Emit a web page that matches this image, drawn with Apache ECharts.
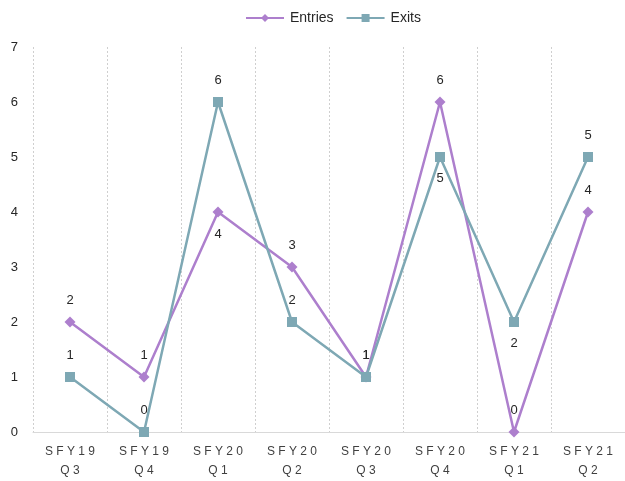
<!DOCTYPE html>
<html><head><meta charset="utf-8">
<script src="https://cdn.jsdelivr.net/npm/echarts@6/dist/echarts.min.js"></script>
<style>html,body{margin:0;padding:0;background:#fff}#c{width:625px;height:481px}</style>
</head><body><div id="c"></div>
<script>
const categories = ['S F Y 1 9\nQ 3','S F Y 1 9\nQ 4','S F Y 2 0\nQ 1','S F Y 2 0\nQ 2','S F Y 2 0\nQ 3','S F Y 2 0\nQ 4','S F Y 2 1\nQ 1','S F Y 2 1\nQ 2'];
const entries = [2,1,4,3,1,6,0,4];
const exits = [1,0,6,2,1,5,2,5];
const entriesLabelPos = ['top','top','bottom','top','top','top','top','top'];
const exitsLabelPos = ['top','top','top','top','top','bottom','bottom','top'];
const yTicks = [0,1,2,3,4,5,6,7];

const chart = echarts.init(document.getElementById('c'), null, {renderer:'canvas'});
const lbl = {show:true, color:'#262626', fontSize:13, fontFamily:'Liberation Sans, Arial', distance:10};
chart.setOption({
  animation:false,
  textStyle:{fontFamily:'Liberation Sans, Arial'},
  legend:{top:6, left:240, itemWidth:38, itemHeight:10, itemGap:12,
    textStyle:{color:'#262626', fontSize:14, padding:[0,0,0,1]},
    data:['Entries','Exits']},
  grid:{left:33, right:0, top:47, bottom:49},
  xAxis:{type:'category', data:categories, boundaryGap:true,
    axisLine:{lineStyle:{color:'#d9d9d9'}}, axisTick:{show:false},
    axisLabel:{color:'#404040', fontSize:12, lineHeight:19, margin:10},
    splitLine:{show:true, lineStyle:{color:'#cfcfcf', type:[2,2], width:1}}},
  yAxis:{type:'value', min:0, max:7, interval:1,
    axisLine:{show:false}, axisTick:{show:false}, splitLine:{show:false},
    axisLabel:{color:'#262626', fontSize:13, margin:15,
      formatter:v=>yTicks.includes(v)?String(v):''}},
  series:[
    {name:'Entries', type:'line', symbol:'diamond', symbolSize:11,
     itemStyle:{color:'#AD7FCD'}, lineStyle:{color:'#AD7FCD', width:2.5},
     data:entries.map((v,i)=>({value:v, label:Object.assign({}, lbl, {position:entriesLabelPos[i]})})),
     label:lbl, z:2},
    {name:'Exits', type:'line', symbol:'rect', symbolSize:10,
     itemStyle:{color:'#7EA8B4'}, lineStyle:{color:'#7EA8B4', width:2.5},
     data:exits.map((v,i)=>({value:v, label:Object.assign({}, lbl, {position:exitsLabelPos[i]})})),
     label:lbl, z:3}
  ]
});
</script></body></html>
